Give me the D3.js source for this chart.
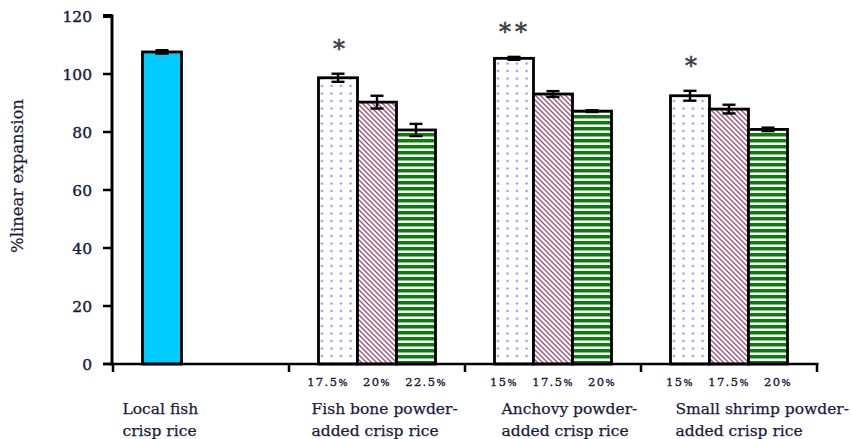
<!DOCTYPE html>
<html>
<head>
<meta charset="utf-8">
<script src="https://cdn.jsdelivr.net/npm/d3@7"></script>
<style>
  html, body { margin: 0; padding: 0; background: #fff; }
  svg { display: block; }
</style>
</head>
<body>
<svg id="chart" width="851" height="439"></svg>
<script>
// Linear expansion of crisp rice products
const groups = ["local", "fishbone", "anchovy", "shrimp"];
const groupLabels = [
  ["Local fish", "crisp rice"],
  ["Fish bone powder-", "added crisp rice"],
  ["Anchovy powder-", "added crisp rice"],
  ["Small shrimp powder-", "added crisp rice"]
];
const levelLabels = [
  [],
  ["17.5%", "20%", "22.5%"],
  ["15%", "17.5%", "20%"],
  ["15%", "17.5%", "20%"]
];
const values = [
  [107.6],
  [98.7, 90.3, 80.7],
  [105.4, 93.1, 87.2],
  [92.5, 87.9, 80.9]
];
const errors = [
  [0.6],
  [1.4, 2.2, 2.1],
  [0.5, 1.0, 0.3],
  [1.7, 1.5, 0.6]
];
const significance = ["", "*", "**", "*"];
const yTicks = [0, 20, 40, 60, 80, 100, 120];

const textColor = "#1a1a3c";
const serif = "'DejaVu Serif', serif";

const svg = d3.select("#chart");
const defs = svg.append("defs");

// dotted fill
const pDots = defs.append("pattern").attr("id", "dots")
  .attr("patternUnits", "userSpaceOnUse").attr("width", 9.5).attr("height", 7.5);
pDots.append("rect").attr("width", 9.5).attr("height", 7.5).attr("fill", "#fff");
pDots.append("circle").attr("cx", 4.5).attr("cy", 3.5).attr("r", 1.25).attr("fill", "#9090f2");

// diagonal hatch
const pHatch = defs.append("pattern").attr("id", "hatch")
  .attr("patternUnits", "userSpaceOnUse").attr("width", 5).attr("height", 5);
pHatch.append("rect").attr("width", 5).attr("height", 5).attr("fill", "#fff");
pHatch.append("path").attr("d", "M-1,-1 L6,6 M-1,4 L1,6 M4,-1 L6,1")
  .attr("stroke", "#a85a7e").attr("stroke-width", 1.5);

// horizontal stripes
const pStripe = defs.append("pattern").attr("id", "stripes")
  .attr("patternUnits", "userSpaceOnUse").attr("width", 5).attr("height", 6);
pStripe.append("rect").attr("width", 5).attr("height", 6).attr("fill", "#fff");
pStripe.append("rect").attr("y", 1).attr("width", 5).attr("height", 3.5).attr("fill", "#0a7d0a");

const slotFills = ["url(#dots)", "url(#hatch)", "url(#stripes)"];
const localFill = "#00ccff";

const y = d3.scaleLinear().domain([0, 120]).range([364, 16]);
const x = d3.scaleBand().domain(groups).range([113, 817]);
const xi = d3.scaleBand().domain([0, 1, 2]).range([0, x.bandwidth()])
  .paddingInner(0).paddingOuter(0.756);

// label horizontal shifts, relative to the first bar of each group
const labelShift = [-20, -7, 7, 5];

// bars
groups.forEach((g, gi) => {
  const gx = x(g);
  const grp = svg.append("g").attr("transform", `translate(${gx},0)`);
  values[gi].forEach((v, i) => {
    grp.append("rect")
      .attr("x", xi(i)).attr("width", xi.bandwidth())
      .attr("y", y(v)).attr("height", y(0) - y(v))
      .attr("fill", gi === 0 ? localFill : slotFills[i])
      .attr("stroke", "#000").attr("stroke-width", 2.8);
  });
  // error bars
  values[gi].forEach((v, i) => {
    const cx = xi(i) + xi.bandwidth() / 2;
    const e = errors[gi][i];
    const eb = grp.append("g").attr("stroke", "#000").attr("stroke-width", 2.4);
    eb.append("line").attr("x1", cx).attr("x2", cx).attr("y1", y(v + e)).attr("y2", y(v - e));
    eb.append("line").attr("x1", cx - 6.5).attr("x2", cx + 6.5).attr("y1", y(v + e)).attr("y2", y(v + e));
    eb.append("line").attr("x1", cx - 6.5).attr("x2", cx + 6.5).attr("y1", y(v - e)).attr("y2", y(v - e));
  });
  // significance marks
  if (significance[gi]) {
    const cx = xi(0) + xi.bandwidth() / 2;
    grp.append("text")
      .attr("x", cx + 1).attr("y", y(values[gi][0] + errors[gi][0]) - 17)
      .attr("text-anchor", "middle")
      .attr("font-family", serif).attr("font-size", 24)
      .attr("letter-spacing", significance[gi].length > 1 ? 4 : 0)
      .attr("fill", "#3c3c48").attr("stroke", "#3c3c48").attr("stroke-width", 0.5)
      .text(significance[gi]);
  }
  // concentration labels
  levelLabels[gi].forEach((t, i) => {
    const cx = xi(i) + xi.bandwidth() / 2 + (i - 1) * 10;
    const txt = grp.append("text")
      .attr("x", cx).attr("y", 386)
      .attr("text-anchor", "middle")
      .attr("font-family", serif).attr("font-size", 11.5)
      .attr("letter-spacing", 1.4)
      .attr("fill", textColor).attr("stroke", textColor).attr("stroke-width", 0.35);
    txt.append("tspan").text(t.replace("%", ""));
    txt.append("tspan").attr("font-size", 9.5).text("%");
  });
  // group labels
  const lx = xi(0) + labelShift[gi];
  groupLabels[gi].forEach((line, li) => {
    grp.append("text")
      .attr("x", lx).attr("y", 414 + li * 22)
      .attr("font-family", serif).attr("font-size", 15.5)
      .attr("fill", textColor).attr("stroke", textColor).attr("stroke-width", 0.25)
      .text(line);
  });
});

// y axis
const yAxis = svg.append("g");
yAxis.append("line").attr("x1", 112).attr("x2", 112)
  .attr("y1", y(120) - 1.5).attr("y2", y(0) + 1.5)
  .attr("stroke", "#000").attr("stroke-width", 3);
yTicks.forEach(t => {
  yAxis.append("line").attr("x1", 103).attr("x2", 112)
    .attr("y1", y(t)).attr("y2", y(t))
    .attr("stroke", "#000").attr("stroke-width", t === 120 ? 4 : 2.5);
  yAxis.append("text")
    .attr("x", 92).attr("y", y(t)).attr("dy", "0.36em")
    .attr("text-anchor", "end")
    .attr("font-family", serif).attr("font-size", 15.5)
    .attr("fill", textColor).attr("stroke", textColor).attr("stroke-width", 0.4)
    .text(t);
});

// x axis
const xAxis = svg.append("g");
xAxis.append("line").attr("x1", 103).attr("x2", 818.5)
  .attr("y1", y(0)).attr("y2", y(0))
  .attr("stroke", "#000").attr("stroke-width", 2.5);
const bounds = groups.map(g => x(g)).concat([x.range()[1]]);
bounds.forEach(b => {
  xAxis.append("line").attr("x1", b).attr("x2", b)
    .attr("y1", y(0)).attr("y2", y(0) + 8)
    .attr("stroke", "#000").attr("stroke-width", 2.5);
});

// y axis title
svg.append("text")
  .attr("transform", "translate(23,176) rotate(-90)")
  .attr("text-anchor", "middle")
  .attr("font-family", serif).attr("font-size", 16.5)
  .attr("fill", textColor).attr("stroke", textColor).attr("stroke-width", 0.2)
  .text("%linear expansion");
</script>
</body>
</html>
